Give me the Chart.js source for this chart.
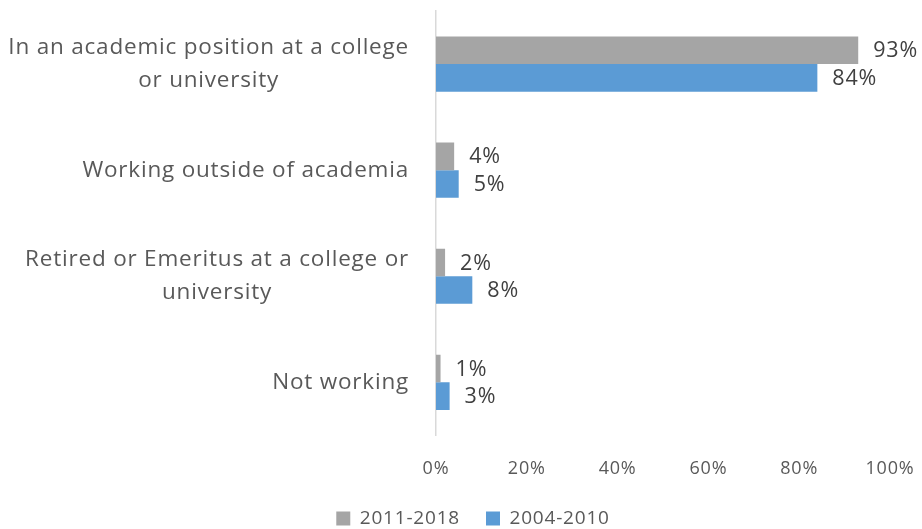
<!DOCTYPE html>
<html>
<head>
<meta charset="utf-8">
<script src="https://cdn.jsdelivr.net/npm/chart.js"></script>
<style>
  html, body { margin: 0; padding: 0; background: #fff; }
  #wrap { width: 922px; height: 529px; }
</style>
</head>
<body>
<div id="wrap"><canvas id="myChart" width="922" height="529"></canvas></div>
<script>
const categories = [
  ["In an academic position at a college", "or university"],
  ["Working outside of academia"],
  ["Retired or Emeritus at a college or", "university"],
  ["Not working"]
];
const seriesNames = ["2011-2018", "2004-2010"];
const values2011 = [93, 4, 2, 1];
const values2004 = [84, 5, 8, 3];
const xTicks = [0, 20, 40, 60, 80, 100];

const FONT = "'Open Sans', sans-serif";

// wider spacing, closer to the Calibri look of the original
const spacing = {
  id: "spacing",
  beforeUpdate(chart) { chart.ctx.letterSpacing = "0.8px"; },
  beforeDraw(chart) { chart.ctx.letterSpacing = "0.8px"; }
};

// category labels: block right aligned, lines centered inside the block
const categoryLabels = {
  id: "categoryLabels",
  afterDraw(chart) {
    const ctx = chart.ctx;
    const yScale = chart.scales.y;
    const right = chart.chartArea.left - 27;
    ctx.save();
    ctx.font = "22.5px " + FONT;
    ctx.fillStyle = "#595959";
    ctx.textBaseline = "middle";
    ctx.textAlign = "center";
    const lineH = 33;
    categories.forEach((lines, i) => {
      const yc = yScale.getPixelForValue(i);
      const w = Math.max(...lines.map(l => ctx.measureText(l).width));
      const xc = right - w / 2;
      const y0 = yc - (lines.length - 1) * lineH / 2;
      lines.forEach((l, j) => ctx.fillText(l, xc, y0 + j * lineH));
    });
    ctx.restore();
  }
};

// value labels at end of each bar
const valueLabels = {
  id: "valueLabels",
  afterDatasetsDraw(chart) {
    const ctx = chart.ctx;
    ctx.save();
    ctx.font = "21.5px " + FONT;
    ctx.fillStyle = "#404040";
    ctx.textBaseline = "middle";
    ctx.textAlign = "left";
    chart.data.datasets.forEach((ds, di) => {
      const meta = chart.getDatasetMeta(di);
      meta.data.forEach((bar, i) => {
        ctx.fillText(ds.data[i] + "%", bar.x + 15, bar.y + 1);
      });
    });
    ctx.restore();
  }
};

const canvas = document.getElementById("myChart");

new Chart(canvas, {
  type: "bar",
  data: {
    labels: categories.map(c => c.join(" ")),
    datasets: [
      {
        label: seriesNames[0],
        data: values2011,
        backgroundColor: "#a5a5a5",
        categoryPercentage: 0.52,
        barPercentage: 1.0
      },
      {
        label: seriesNames[1],
        data: values2004,
        backgroundColor: "#5b9bd5",
        categoryPercentage: 0.52,
        barPercentage: 1.0
      }
    ]
  },
  options: {
    indexAxis: "y",
    responsive: false,
    animation: false,
    layout: { padding: { top: 11, right: 32, bottom: -9, left: 56 } },
    scales: {
      x: {
        min: 0,
        max: 100,
        afterBuildTicks: (scale) => { scale.ticks = xTicks.map(v => ({ value: v })); },
        afterFit: (scale) => { scale.paddingRight = 0; scale.height -= 20; },
        grid: { display: false, drawTicks: false },
        border: { display: false },
        ticks: {
          padding: 23,
          color: "#595959",
          font: { family: FONT, size: 18 },
          callback: (v) => v + "%"
        }
      },
      y: {
        grid: { display: false, drawTicks: false },
        border: { display: true, color: "#d9d9d9", width: 1.5 },
        ticks: { display: false },
        afterFit: (scale) => { scale.width = 380; }
      }
    },
    plugins: {
      legend: {
        position: "bottom",
        labels: {
          color: "#595959",
          font: { family: FONT, size: 19 },
          boxWidth: 14,
          boxHeight: 14,
          padding: 26
        }
      },
      tooltip: { enabled: false }
    }
  },
  plugins: [spacing, categoryLabels, valueLabels]
});
</script>
</body>
</html>
